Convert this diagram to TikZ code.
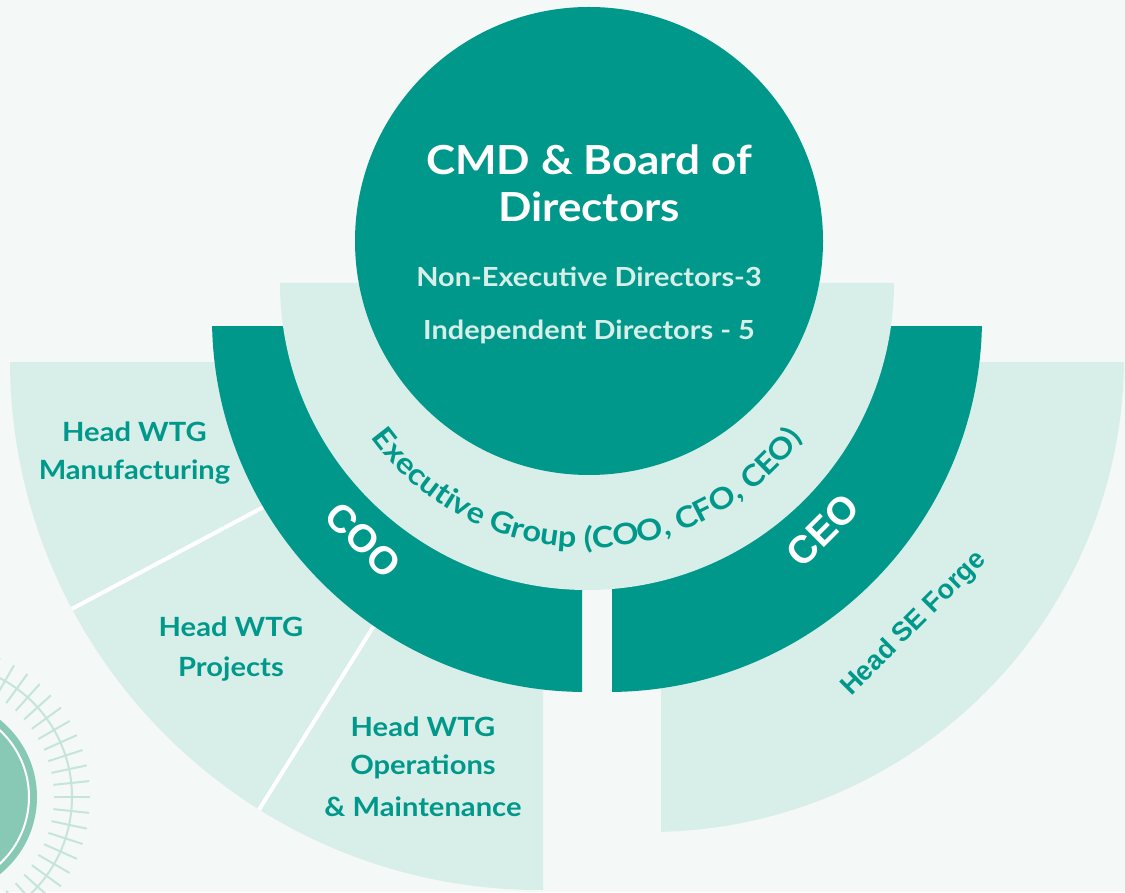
\documentclass[tikz,border=0pt]{standalone}
\usepackage{fontspec}
\setmainfont[FakeStretch=1.1]{Lato}
\newfontfamily\arialfont{Liberation Sans}
\usetikzlibrary{decorations.text}

\definecolor{bgc}{HTML}{F4F8F7}
\definecolor{tealc}{HTML}{00988A}
\definecolor{lightc}{HTML}{D8EEE8}
\definecolor{decofill}{HTML}{87C9B5}
\definecolor{tickc}{HTML}{C5E5DB}

\tikzset{
  lbl/.style={anchor=base, text=tealc, inner sep=0pt,
    font=\bfseries\fontsize{26.5}{26.5}\selectfont},
  boardtitle/.style={anchor=base, text=white, inner sep=0pt,
    font=\bfseries\fontsize{40}{40}\selectfont},
  boardline/.style={anchor=base, text=lightc, inner sep=0pt,
    font=\bfseries\fontsize{26.3}{26.3}\selectfont},
  rolebig/.style={text=white, inner sep=0pt,
    font=\arialfont\bfseries\fontsize{39}{39}\selectfont},
}

\begin{document}
\begin{tikzpicture}[x=1pt,y=1pt]
\useasboundingbox (0,0) rectangle (1125,892);
\fill[bgc] (0,0) rectangle (1125,892);

% ornament in the lower left corner
\begin{scope}
  \clip (0,0) rectangle (1125,892);
  \fill[decofill] (-62,95) circle (99);
  \draw[white, line width=2] (-62,95) circle (91);
  \draw[tickc, line width=2] (-62,95) circle (134);
  \foreach \a in {0,6,...,354}
    \draw[tickc, line width=2] (-62,95) ++(\a:116) -- ++(\a:36);
\end{scope}

% outer ring, left: three WTG sectors
\begin{scope}
  \clip (0,0) rectangle (543,529);
  \clip (540,532) circle (530);
  \fill[lightc] (540,532) circle (530);
  \draw[white, line width=4] (540,532) -- ++(208:600);
  \draw[white, line width=4] (540,532) -- ++(238:600);
\end{scope}

% outer ring, right: SE Forge sector
\begin{scope}
  \clip (661,0) rectangle (1125,529);
  \fill[lightc] (649,535) circle (475);
\end{scope}

% COO and CEO bands
\begin{scope}
  \clip (0,0) rectangle (582,565);
  \fill[tealc] (586,574) circle (374);
\end{scope}
\begin{scope}
  \clip (612,0) rectangle (1125,565);
  \fill[tealc] (608,574) circle (374);
\end{scope}

% executive group band
\fill[lightc] (280,609) arc[start angle=180, end angle=360, radius=307] -- cycle;

% board circle
\node[circle, fill=tealc, minimum size=468, inner sep=0pt] (board) at (589,651) {};

\node[boardtitle] (cmd) at (589,717) {CMD \& Board of};
\node[boardtitle] (dirs) at (589,670) {Directors};
\node[boardline] (ned) at (589,605) {Non-Executive Directors-3};
\node[boardline] (ind) at (589,552) {Independent Directors - 5};

% curved label of the executive group
\path[decorate, decoration={text along path, text align=center,
    text color=tealc,
    text={|\bfseries\fontsize{29.5}{29.5}\selectfont|Executive Group (COO, CFO, CEO)}}]
  (587,611) ++(190:267) arc[start angle=190, end angle=350, radius=267];

\node[rolebig, rotate=-45] (coo) at (363,352) {COO};
\node[rolebig, rotate=45] (ceo) at (823,362) {CEO};

\node[text=tealc, inner sep=0pt, rotate=45,
  font=\arialfont\bfseries\fontsize{27}{27}\selectfont] (forge) at (914,268) {Head SE Forge};

\node[lbl] (mfg1) at (134.5,450) {Head WTG};
\node[lbl] (mfg2) at (134.5,412) {Manufacturing};
\node[lbl] (prj1) at (231,255) {Head WTG};
\node[lbl] (prj2) at (231,215) {Projects};
\node[lbl] (om1) at (423,155) {Head WTG};
\node[lbl] (om2) at (423,117) {Operations};
\node[lbl] (om3) at (423,75) {\& Maintenance};
\end{tikzpicture}
\end{document}
